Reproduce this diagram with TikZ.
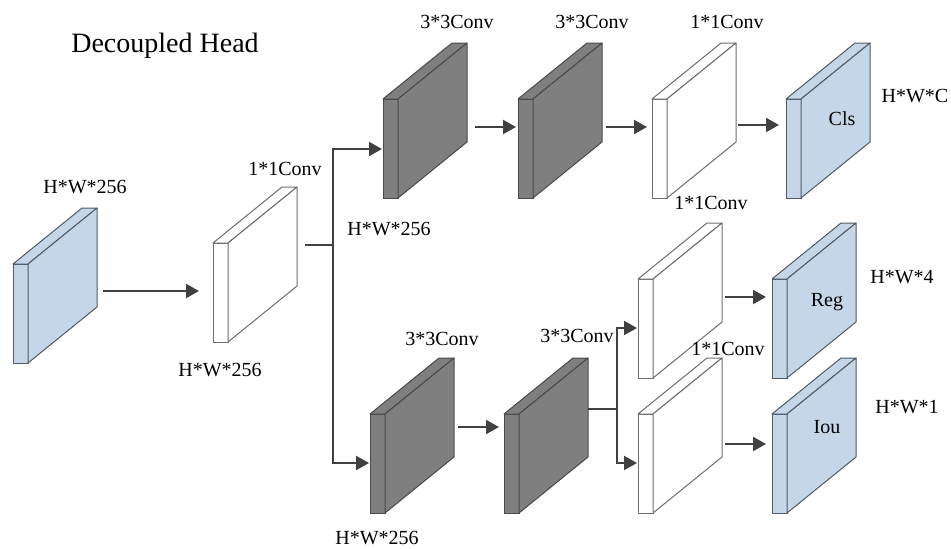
\documentclass[tikz,border=0pt]{standalone}
\usepackage{fontspec}
\setmainfont{Liberation Serif}
\newfontfamily\lblfont{Liberation Serif}
\usetikzlibrary{arrows.meta}
\definecolor{boxblue}{HTML}{C4D6E7}
\definecolor{edgeblue}{HTML}{505A64}
\definecolor{boxgray}{HTML}{7F7F7F}
\definecolor{edgegray}{HTML}{4A4A4A}
\definecolor{edgewhite}{HTML}{6E6E6E}
\definecolor{arrowc}{HTML}{404040}
\tikzset{
  cubefront/.style={draw, minimum width=15pt, minimum height=99pt, inner sep=0pt, outer sep=0pt, line width=1pt},
  cubeside/.style={line width=1pt, line join=round},
  bluebox/.style={fill=boxblue, draw=edgeblue},
  graybox/.style={fill=boxgray, draw=edgegray},
  whitebox/.style={fill=white, draw=edgewhite},
  lbl/.style={inner sep=0pt, anchor=base, font=\lblfont\fontsize{20}{24}\selectfont},
  conn/.style={draw=arrowc, line width=2.2pt},
  arr/.style={conn, -{Triangle[length=13pt,width=14pt]}}
}
\newcommand{\cubebox}[4]{%
  \node[cubefront,#4,anchor=north west] (#1) at (#2,#3) {};
  \filldraw[cubeside,#4] (#1.north west) -- ++(69,-56) -- ++(15,0) -- (#1.north east) -- cycle;
  \filldraw[cubeside,#4] (#1.north east) -- ++(69,-56) -- ++(0,99) -- (#1.south east) -- cycle;
}
\begin{document}
\begin{tikzpicture}[x=1pt,y=-1pt]
\useasboundingbox (0,0) rectangle (951,549);
% boxes
\cubebox{b1}{13}{264}{bluebox}
\cubebox{b2}{213}{243}{whitebox}
\cubebox{b3}{383}{99}{graybox}
\cubebox{b4}{518}{99}{graybox}
\cubebox{b5}{652}{99}{whitebox}
\cubebox{b6}{786}{99}{bluebox}
\cubebox{b7}{370}{414}{graybox}
\cubebox{b8}{504}{414}{graybox}
\cubebox{b9}{638}{279}{whitebox}
\cubebox{b10}{638}{414}{whitebox}
\cubebox{b11}{772}{279}{bluebox}
\cubebox{b12}{772}{414}{bluebox}
% connector end points
\coordinate (b1o) at (103,291);
\coordinate (b2i) at (199,291);
\coordinate (b2o) at (305,245);
\coordinate (split1) at (333,245);
\coordinate (b3i) at (382,149);
\coordinate (b7i) at (369,463);
\coordinate (b3o) at (475,127);
\coordinate (b4i) at (516,127);
\coordinate (b4o) at (606,127);
\coordinate (b5i) at (647,127);
\coordinate (b5o) at (738,125);
\coordinate (b6i) at (779,125);
\coordinate (b7o) at (458,427);
\coordinate (b8i) at (499,427);
\coordinate (b8o) at (588,409);
\coordinate (split2) at (617,409);
\coordinate (b9i) at (637,328);
\coordinate (b10i) at (637,463);
\coordinate (b9o) at (725,297);
\coordinate (b11i) at (766,297);
\coordinate (b10o) at (725,444);
\coordinate (b12i) at (766,444);
% connectors
\draw[arr] (b1o) -- (b2i);
\draw[conn] (b2o) -- (split1);
\draw[arr] (split1) |- (b3i);
\draw[arr] (split1) |- (b7i);
\draw[arr] (b3o) -- (b4i);
\draw[arr] (b4o) -- (b5i);
\draw[arr] (b5o) -- (b6i);
\draw[arr] (b7o) -- (b8i);
\draw[conn] (b8o) -- (split2);
\draw[arr] (split2) |- (b9i);
\draw[arr] (split2) |- (b10i);
\draw[arr] (b9o) -- (b11i);
\draw[arr] (b10o) -- (b12i);
% labels
\node[inner sep=0pt, anchor=base, font=\lblfont\fontsize{28}{32}\selectfont] (title) at (165,52) {Decoupled Head};
\node[lbl] (l1) at (85,193) {H*W*256};
\node[lbl] (l2) at (285,175) {1*1Conv};
\node[lbl] (l3) at (220,376) {H*W*256};
\node[lbl] (l4) at (457,28) {3*3Conv};
\node[lbl] (l5) at (592,28) {3*3Conv};
\node[lbl] (l6) at (727,28) {1*1Conv};
\node[lbl] (l7) at (389,235) {H*W*256};
\node[lbl] (l8) at (711,209) {1*1Conv};
\node[lbl] (l9) at (842,125) {Cls};
\node[lbl] (l10) at (915,102) {H*W*C};
\node[lbl] (l11) at (442,345) {3*3Conv};
\node[lbl] (l12) at (577,342) {3*3Conv};
\node[lbl] (l13) at (377,544) {H*W*256};
\node[lbl] (l14) at (827,306) {Reg};
\node[lbl] (l15) at (902,283) {H*W*4};
\node[lbl] (l16) at (728,355) {1*1Conv};
\node[lbl] (l17) at (827,433) {Iou};
\node[lbl] (l18) at (907,413) {H*W*1};
\end{tikzpicture}
\end{document}
